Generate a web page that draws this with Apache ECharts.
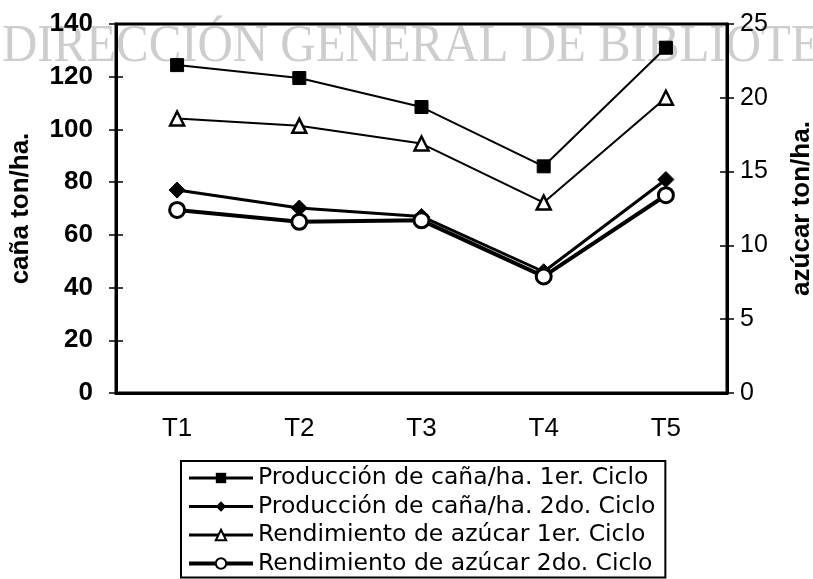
<!DOCTYPE html>
<html>
<head>
<meta charset="utf-8">
<script src="https://cdn.jsdelivr.net/npm/echarts@6/dist/echarts.min.js"></script>
<style>
  html, body { margin: 0; padding: 0; background: #fff; }
  #chart { width: 813px; height: 579px; }
</style>
</head>
<body>
<div id="chart"></div>
<script>
const categories = ['T1', 'T2', 'T3', 'T4', 'T5']
// left axis: caña ton/ha.
const cana1 = [124.4, 119.5, 108.5, 86, 131]
const cana2 = [77, 70.2, 67, 46, 81]
// right axis: azúcar ton/ha.
const azucar1 = [18.6, 18.1, 16.9, 12.9, 20]
const azucar2 = [12.4, 11.6, 11.7, 7.9, 13.4]
const leftTicks = { min: 0, max: 140, interval: 20 }
const rightTicks = { min: 0, max: 25, interval: 5 }
const names = [
  'Producción de caña/ha. 1er. Ciclo',
  'Producción de caña/ha. 2do. Ciclo',
  'Rendimiento de azúcar 1er. Ciclo',
  'Rendimiento de azúcar 2do. Ciclo'
]
const lineWidths = [2, 3, 2, 4]

const font = 'Liberation Sans, Arial, sans-serif'
const chart = echarts.init(document.getElementById('chart'))

// ticks in the reference cross the axis, so a second copy of each axis draws the inner half
const yBase = { type: 'value', splitLine: { show: false } }
const tickStyle = { color: '#000', width: 1.5 }

chart.setOption({
  animation: false,
  backgroundColor: '#fff',
  graphic: [{
    type: 'text', left: 2, top: 21, z: -10, silent: true, scaleX: 0.94,
    style: { text: 'DIRECCIÓN GENERAL DE BIBLIOTECAS', font: '52px "Liberation Serif", serif', fill: '#cdcdcd' }
  }],
  grid: {
    left: 116, right: 86, top: 24, bottom: 186, containLabel: false, outerBoundsMode: 'none',
    show: true, borderColor: '#000', borderWidth: 3
  },
  legend: {
    orient: 'vertical', left: 181, top: 461,
    itemWidth: 64, itemHeight: 13, itemGap: 4.5,
    padding: [5, 10, 2, 6],
    borderColor: '#000', borderWidth: 2,
    textStyle: { fontFamily: 'DejaVu Sans', fontSize: 23.5, color: '#000' },
    // legend icon lines a bit heavier than the series, as in the scan
    data: names.map((n, i) => ({ name: n, lineStyle: { width: Math.max(lineWidths[i], 3) } }))
  },
  xAxis: [{
    type: 'category', data: categories, boundaryGap: true,
    axisLine: { lineStyle: { color: '#000', width: 3 } },
    axisTick: { length: 7, lineStyle: tickStyle },
    axisLabel: { fontFamily: font, fontSize: 26, color: '#000', margin: 23 }
  }, {
    type: 'category', data: categories, boundaryGap: true, position: 'bottom',
    axisLine: { show: false },
    axisTick: { inside: true, length: 7, lineStyle: tickStyle },
    axisLabel: { show: false }
  }],
  yAxis: [
    Object.assign({}, yBase, leftTicks, {
      position: 'left',
      name: 'caña ton/ha.', nameLocation: 'middle', nameRotate: 90, nameGap: 82,
      nameTextStyle: { fontFamily: font, fontWeight: 'bold', fontSize: 26, color: '#000' },
      axisLine: { show: true, lineStyle: { color: '#000', width: 3 } },
      axisTick: { show: true, length: 7, lineStyle: tickStyle },
      axisLabel: { fontFamily: font, fontWeight: 'bold', fontSize: 26, color: '#000', margin: 23 }
    }),
    Object.assign({}, yBase, rightTicks, {
      position: 'right',
      name: 'azúcar ton/ha.', nameLocation: 'middle', nameRotate: 90, nameGap: 62,
      nameTextStyle: { fontFamily: font, fontWeight: 'bold', fontSize: 26, color: '#000' },
      axisLine: { show: true, lineStyle: { color: '#000', width: 3 } },
      axisTick: { show: true, length: 7, lineStyle: tickStyle },
      axisLabel: { fontFamily: font, fontSize: 25, color: '#000', margin: 13 }
    }),
    Object.assign({}, yBase, leftTicks, {
      position: 'left', axisLine: { show: false }, axisLabel: { show: false },
      axisTick: { show: true, inside: true, length: 7, lineStyle: tickStyle }
    }),
    Object.assign({}, yBase, rightTicks, {
      position: 'right', axisLine: { show: false }, axisLabel: { show: false },
      axisTick: { show: true, inside: true, length: 7, lineStyle: tickStyle }
    })
  ],
  series: [{
    name: names[0], type: 'line', yAxisIndex: 0, data: cana1,
    symbol: 'rect', symbolSize: 13,
    lineStyle: { color: '#000', width: lineWidths[0] },
    itemStyle: { color: '#000', borderColor: '#000' }
  }, {
    name: names[1], type: 'line', yAxisIndex: 0, data: cana2,
    symbol: 'diamond', symbolSize: 16,
    lineStyle: { color: '#000', width: lineWidths[1] },
    itemStyle: { color: '#000', borderColor: '#000' }
  }, {
    name: names[2], type: 'line', yAxisIndex: 1, data: azucar1,
    symbol: 'triangle', symbolSize: 14,
    lineStyle: { color: '#000', width: lineWidths[2] },
    itemStyle: { color: '#fff', borderColor: '#000', borderWidth: 2.5 }
  }, {
    name: names[3], type: 'line', yAxisIndex: 1, data: azucar2,
    symbol: 'circle', symbolSize: 15,
    lineStyle: { color: '#000', width: lineWidths[3] },
    itemStyle: { color: '#fff', borderColor: '#000', borderWidth: 3 }
  }]
})
</script>
</body>
</html>
